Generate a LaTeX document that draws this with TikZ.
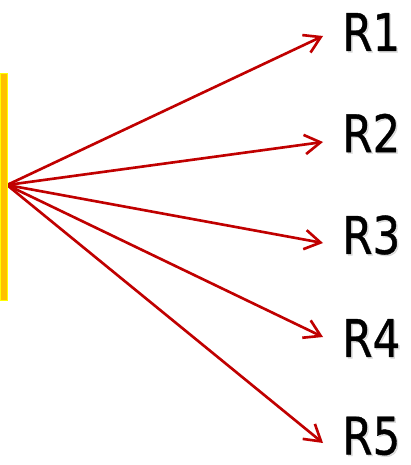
\documentclass[tikz,border=0pt]{standalone}
\usepackage{fontspec}
\setmainfont{DejaVu Sans}[FakeBold=0.8]
\usepackage{xcolor}
\usepackage{tikz}
\usetikzlibrary{positioning}
\usetikzlibrary{arrows.meta}
\pgfdeclarelayer{nodelayer}
\pgfdeclarelayer{edgelayer}
\pgfsetlayers{edgelayer,nodelayer,main}

\definecolor{barfill}{HTML}{FFC000}
\definecolor{barline}{HTML}{FFFF00}
\definecolor{ray}{HTML}{C00000}

\tikzset{
  rlabel/.style={anchor=west, inner sep=0pt, xscale=0.84,
    font=\fontsize{29.5}{30}\selectfont},
  rshadow/.style={rlabel, text=black!25, opacity=0.5},
  rayline/.style={draw=ray, line width=1.5pt,
    -{Straight Barb[length=9pt,width=11pt,line width=1.5pt]}},
}

\begin{document}
\begin{tikzpicture}[x=0.02cm, y=-0.02cm]
  \useasboundingbox (0, 0) rectangle (410, 465);
  \begin{pgfonlayer}{nodelayer}
    \fill [barfill, draw=barline, line width=0.4pt] (0.3, 73) rectangle (7, 300);
    \coordinate (0) at (7, 185);
    % soft shadows behind the labels
    \node [rshadow] (s1) at (343.5, 33.5) {R1};
    \node [rshadow] (s2) at (343.5, 134.5) {R2};
    \node [rshadow] (s3) at (343.5, 236.5) {R3};
    \node [rshadow] (s4) at (343.5, 339.5) {R4};
    \node [rshadow] (s5) at (343.5, 437.5) {R5};
    \node [rlabel] (1) at (342, 32) {R1};
    \node [rlabel] (2) at (342, 133) {R2};
    \node [rlabel] (3) at (342, 235) {R3};
    \node [rlabel] (4) at (342, 338) {R4};
    \node [rlabel] (5) at (342, 436) {R5};
    \coordinate (t1) at (323, 36);
    \coordinate (t2) at (323, 142);
    \coordinate (t3) at (323, 243);
    \coordinate (t4) at (323, 337);
    \coordinate (t5) at (323, 443);
  \end{pgfonlayer}
  \begin{pgfonlayer}{edgelayer}
    \draw [rayline] (0) -- (t1);
    \draw [rayline] (0) -- (t2);
    \draw [rayline] (0) -- (t3);
    \draw [rayline] (0) -- (t4);
    \draw [rayline] (0) -- (t5);
  \end{pgfonlayer}
\end{tikzpicture}
\end{document}
